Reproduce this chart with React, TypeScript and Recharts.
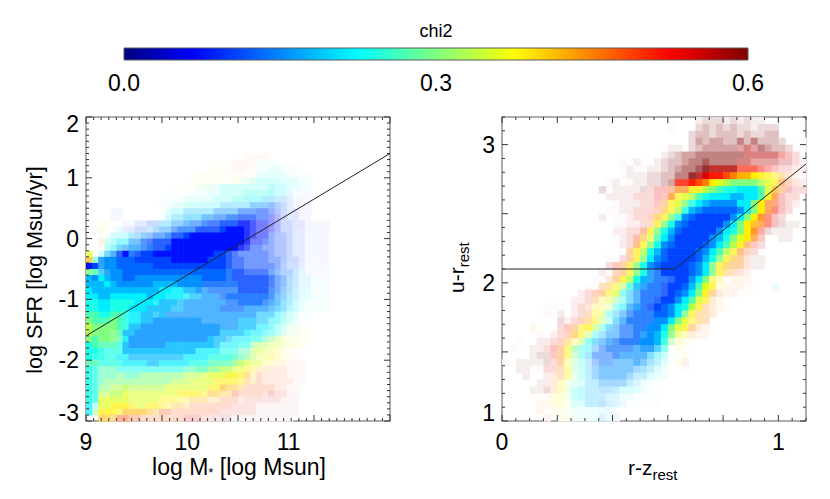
import { ScatterChart, Scatter, XAxis, YAxis, ReferenceArea } from "recharts";

// chi2 level per cell (base 36, see chiLevels), row 0 is the top of the panel
const massChiRows = [
  "", "", "", "", "", "",
  ".......... .......... ......gggg",
  ".......... .......... ..ddgggg88 88",
  ".......... .......... ddddgggd88 88888",
  ".......... ........dd dddddgcc88 8888888",
  ".......... .......ddd ddcccaa988 8888777",
  ".......... .....cccaa 9988888888 8777766",
  ".......... ....a..888 8888888888 7776655",
  ".......... ...8888888 8888887776 6554333",
  ".......... ..88888877 7766666555 4433333",
  "....33.... ...7776666 6555544433 3333222",
  "....33.... ...7666665 5444433333 2233222",
  ".dcc..3333 3366555444 3333322222 2233222222",
  ".8dc873333 5555444433 3332222222 2233332222",
  "..d8877655 4444333222 2222222222 3333333333",
  "..f8877554 3333222222 2222222223 3333333333",
  "..f8765554 4333222222 2222222333 3333333333",
  "c.76532433 3222222222 2333333333 3333333333",
  "e955544433 3333222222 3333333333 3333333333",
  "2355544444 4333333333 3333333333 3344444444",
  "a965554444 4444444444 4444333333 4444555555",
  "6576554455 5555555554 4444333333 3445566666",
  "6667655555 5666655554 4444433333 3445566666",
  "7666666666 6677776655 4444433333 4455667777",
  "7766777777 6777777665 5544444444 4556677777",
  "8877888877 7766665555 5554444444 5566778888",
  "8877888777 6666665555 5544445555 5667788888",
  "9988998776 6665555555 5555555566 6778899999",
  "a999a98776 6555555555 5555566666 7788999999",
  "baaaa98665 5555555555 5555566677 7889abbbbb",
  "baaaa96655 5555555555 5566667777 889abccccc",
  "a9aaa97555 5555555555 6666777889 abcccccccc",
  "8999986555 5556666666 6677788abb cccddddddd",
  "8888886666 6666666677 7788899bcc cdddeeeeee",
  "8888877666 6666667777 888899abcc dddefggggg",
  "9988887777 6677777888 9999abcccd deegggggg",
  "8899988888 8888889999 aabbccddee gggggggg",
  "88999a999a aaaaaabbbc cccdddeegg gggggggg",
  "889aaaaaaa aaaabbbccc cdddddeegg gggggggg",
  "88aabbbbbb bbbccccccc ddeeeegggg gggggggg",
  "88bbbbcccc cccccddddd eeeegggggi iiiiiiii",
  "88cccccccc ccdddddeee eeggggiiii iiiiiiii",
  "78ccddddcc ddddeeeggg ggggiiiiii kkkkkkkk",
  "7addddeeee eegggggggg ggiiiiiikk kkkkkkkk",
  "..eeeggggg ggggggiiii iikkkkkkkk kkkkkkkk",
];

// weight level per cell (0 = white, 9 = full colour)
const massWeightRows = [
  "", "", "", "", "", "",
  ".......... .......... ......1111",
  ".......... .......... ..11111111 11",
  ".......... .......... 1111111111 22111",
  ".......... ........11 1111111122 2221111",
  ".......... .......111 1111222333 3322211",
  ".......... .....11122 2233333333 4332211",
  ".......... ....1..111 2233334444 4332111",
  ".......... ...1112222 2333444444 4332111",
  ".......... ..11223333 3344444555 5432111",
  "....11.... ...2334444 4555566666 5432211",
  "....11.... ...3445556 6667777766 5432211",
  ".111..1122 3344556667 7788888766 5433221111",
  ".121122233 3455677788 8899998766 5433221111",
  "..11333445 5667889999 9999998766 5443221111",
  "..23455667 7888999999 9999998666 5443221111",
  "..14566777 8889999999 9999987665 5443221111",
  "7.36789889 9999999999 9998766666 5443221111",
  "7689999999 9999999999 9998776666 5543321111",
  "9989999999 9999999999 9998776666 6543321111",
  "8878999999 9999999999 9998887777 6544321111",
  "9999999999 9999999999 9998888888 7654322111",
  "9999999999 9999999998 8888888888 7654322111",
  "9999999999 9999888887 7777788888 7654322111",
  "9999999999 9998887777 7778888888 7654322111",
  "9999999999 9888877777 7777788887 7654321111",
  "9999999999 8888777777 7777777777 6654321111",
  "9999998888 8787777777 7777777766 6543211",
  "9999998888 8888888887 7777777766 5543211",
  "9999998888 8888888888 8877777766 5432211",
  "9999888888 8888888888 8877777665 5432211",
  "9999878888 8888888888 8776666665 5432211",
  "9988878888 8888888888 8766666555 4432211",
  "9987778888 8888888877 7766655554 4321",
  "9887777777 7777777777 7777766544 43211",
  "8877777777 7777777777 7777776553 322111",
  "8766666666 6666666677 7777665433 222111",
  "8766666666 6666666666 7777765332 222111",
  "8766666666 6666666666 6666654332 222211",
  "8766667666 6666666666 6665543333 32211",
  "8766777666 6666666665 5544433332 32211",
  "8777777666 6655544444 3333322222 22111",
  "7477777666 6654443333 3333222211 11111",
  "7577766666 5444333333 3322222211 11111",
  ".166555443 3333333332 2222111111 1111",
];

const colorChiRows = [
  ".......... .......... ........kk kkkkkkkk",
  ".......... .......... ....k...kk kkkkkkkkkk",
  ".......... .......... .......kkk kkkkkkkkkk",
  ".......... .......... .......kkk kkkkkkkkkk k..k",
  ".......... .......... ....kk.kkk kkkkjjjkkk kk.k",
  ".......... .......... ...kkkkkkk kkkkkjjjjj iii",
  ".......... .......k.k ..kkkkkkkk kkkkjjjjjj jjii",
  ".......... .......kkk kkkkkkkkkk jjjjhhhhhh iiii",
  ".......... .......kkk kkkkkkkkji hhgfeedddd eggg",
  ".......... .....kk.kk kkkkkhhhgf dcbaaaabcd fggi",
  ".......... ....k.kkkk kiiigffddb a988777 9ce fiii",
  ".......... .....kkkki iiihfdcb98 7776677 9df iii",
  ".......... ......kkkk iihfdca876 555577adfg iii",
  ".......... .....kkkki iigedb8654 44445 7adfh ii",
  ".......... ....k.kkii igeda85433 33357adfhi i",
  ".......... ......kkii ifda854333 3357adefhi kkk",
  ".......... ......iiii gda8643333 3578adfhkk kk",
  ".......... ......kkig ec97533333 568acdfh.. kk",
  ".......... .......kif da85433334 579bdfhi",
  ".......... .......kfd b864333345 79bdfgi",
  ".......... .....kkifd a754333346 8adefgkk",
  ".......... .....ihfda 8543333457 adeffgkk",
  ".......... ....kkgfda 8543333457 adefgg",
  ".......... ...kkgfdb8 6544333 57a dd.fff",
  ".......... ..kkfedb86 5443334 69c ddfffff..6",
  ".......... .iigfdc865 4443345 7ad ffff",
  ".......... iiifdca865 4433357 9cd ff",
  "......kkk. iigddb8755 4334578bdf fff",
  "......kkk. iifdc86544 44445 7adef f",
  "........ki igedb86544 4455 7acdef",
  "....f...ih fddb865444 4557acdfff",
  ".....k.iig edb8655444 5568acdfff",
  "..k..kkige db86554444 5568add",
  ".k..kkiifd a875444445 5568.dd",
  "....kkkhfd a864444555 5678a.d",
  "k.kkkkkhfd a864445555 5668.dg",
  "..kkkkiifd a865555555 6678..k",
  "...k..kffd a865555556 6778",
  ".....kkfdb 9866555566 77",
  "....kkkfdb 8766556778 888",
  ".....ffddb 8766666777 9",
  ".....ffddb 8766556677 ..6",
  ".....ffddb 9887666",
  "......g.dd a888666",
];

const colorWeightRows = [
  ".......... .......... ........23 33232322",
  ".......... .......... ....1...34 3434332333",
  ".......... .......... .......344 3444343344",
  ".......... .......... .......354 5544646444 3..1",
  ".......... .......... ....22.345 5555565654 43.1",
  ".......... .......... ...2345566 6666666666 5432",
  ".......... .......1.2 ..23445667 6666665555 4432",
  ".......... .......121 1223456678 8888777654 3322",
  ".......... .......122 2334466889 9999999876 5321",
  ".......... .....12.12 2334588999 9999999887 6432",
  ".......... ....3.2222 3344577889 9999999987 5433",
  ".......... .....22223 3344778899 9999999987 433",
  ".......... ......1222 3345788899 9999999976 432",
  ".......... .....11223 3346788999 9999999976 43",
  ".......... ....2.1123 3467889999 9999999864 3",
  ".......... ......1122 3478999999 9999998764 322",
  ".......... ......2233 5789999999 9999998532 22",
  ".......... ......1235 6789999999 99999974.. 22",
  ".......... .......236 7899999999 99998643",
  ".......... .......157 8999999999 9987643",
  ".......... .....11357 8999999999 98765322",
  ".......... .....34578 9999999999 87655322",
  ".......... ....214578 9889999999 875432",
  ".......... ...1135789 9888899999 64.222",
  ".......... ..11456678 8888999999 7322211..2",
  ".......... .234567667 8888999998 5322",
  ".......... 2234455567 8889999987 32",
  "......111. 2334445678 8899999974 321",
  "......1.2. 2345555678 8899998754 3",
  "........32 3456546788 8899998654",
  "....2...34 5676566778 8999987532",
  ".....1.234 6655566778 8999864322",
  "..1..22345 4566677888 9998532",
  ".1..223456 6555677777 8876.21",
  "....233456 5556667777 76541.2",
  "1.22223354 4445666667 6543.22",
  "..22113345 4445666665 5432..1",
  "...2..2345 3445666654 4322",
  ".....22343 3344555543 21",
  "....223343 4444444333 211",
  ".....11333 4444433221 1",
  ".....22332 3344433211 ..1",
  ".....21122 2222221",
  "......2.22 2222322",
];

// chi2 value of each level character 0..k
const chiLevels = [
  0, 0.03, 0.085, 0.115, 0.135, 0.16, 0.185, 0.215, 0.24, 0.27, 0.3,
  0.33, 0.355, 0.385, 0.42, 0.45, 0.48, 0.51, 0.54, 0.57, 0.6,
];

const massLine = [{ x: 9, y: -1.6 }, { x: 12, y: 1.4 }];
const colorLine = [{ x: 0, y: 2.1 }, { x: 0.625, y: 2.1 }, { x: 1.1, y: 2.86 }];

const massXLabels = [9, 10, 11];
const massYLabels = [-3, -2, -1, 0, 1, 2];
const colorXLabels = [0, 1];
const colorYLabels = [1, 2, 3];
const barLabels = ["0.0", "0.3", "0.6"];
const barTicks = [0, 0.3, 0.6];

const FONT = '"Liberation Sans", Arial, sans-serif';
const FRAME = "#5a5a5a";

function range(start: number, stop: number, step: number) {
  const out: number[] = [];
  const n = Math.floor((stop - start) / step + 1e-6);
  for (let i = 0; i <= n; i++) out.push(+(start + i * step).toFixed(4));
  return out;
}

function jet(t: number) {
  const c = (v: number) => Math.round(255 * Math.max(0, Math.min(1, v)));
  return [c(1.5 - Math.abs(4 * t - 3)), c(1.5 - Math.abs(4 * t - 2)), c(1.5 - Math.abs(4 * t - 1))];
}

function cellFill(chi: number, weight: number, power: number) {
  const rgb = jet(chi / 0.6);
  const w = Math.pow(weight / 9, power);
  const m = rgb.map((v) => Math.round(255 + (v - 255) * w));
  return `rgb(${m[0]},${m[1]},${m[2]})`;
}

interface Cell {
  x: number;
  y: number;
  fill: string;
}

function buildCells(
  chiRows: string[],
  weightRows: string[],
  x0: number,
  dx: number,
  y1: number,
  dy: number,
  power: number
): Cell[] {
  const cells: Cell[] = [];
  chiRows.forEach((row, j) => {
    const chis = row.replace(/ /g, "");
    const weights = (weightRows[j] || "").replace(/ /g, "");
    for (let i = 0; i < chis.length; i++) {
      if (chis[i] === "." || !weights[i] || weights[i] === ".") continue;
      cells.push({
        x: x0 + (i + 0.5) * dx,
        y: y1 - (j + 0.5) * dy,
        fill: cellFill(chiLevels[parseInt(chis[i], 36)], Number(weights[i]), power),
      });
    }
  });
  return cells;
}

const massCells = buildCells(massChiRows, massWeightRows, 9, 0.06, 2, 0.1, 1.5);
const colorCells = buildCells(colorChiRows, colorWeightRows, 0, 0.025, 3.2, 0.05, 1.75);

function cellShape(w: number, h: number) {
  return (p: any) => (
    <rect x={p.cx - w / 2} y={p.cy - h / 2} width={w + 0.6} height={h + 0.6} fill={p.payload.fill} />
  );
}

const noDot = () => <g />;

function near(list: number[], v: number) {
  return list.some((m) => Math.abs(m - v) < 1e-6);
}

function XTick(top: number, bottom: number, major: number[], minor: number[], labels: number[]) {
  return (p: any) => {
    const v = p.payload.value;
    const len = near(major, v) ? 6 : near(minor, v) ? 3 : 0;
    return (
      <g>
        {len > 0 && <line x1={p.x} x2={p.x} y1={bottom} y2={bottom - len} stroke="#333" />}
        {len > 0 && <line x1={p.x} x2={p.x} y1={top} y2={top + len} stroke="#333" />}
        {near(labels, v) && (
          <text x={p.x} y={bottom + 29} textAnchor="middle" fontSize={23} fontFamily={FONT} fill="#000">
            {v}
          </text>
        )}
      </g>
    );
  };
}

function YTick(
  left: number,
  right: number,
  textRight: number,
  major: number[],
  minor: number[],
  labels: number[],
  shift: Record<string, number>
) {
  return (p: any) => {
    const v = p.payload.value;
    const len = near(major, v) ? 6 : near(minor, v) ? 3 : 0;
    return (
      <g>
        {len > 0 && <line x1={left} x2={left + len} y1={p.y} y2={p.y} stroke="#333" />}
        {len > 0 && <line x1={right} x2={right - len} y1={p.y} y2={p.y} stroke="#333" />}
        {near(labels, v) && (
          <text x={textRight} y={p.y + 8 + (shift[v] || 0)} textAnchor="end" fontSize={23} fontFamily={FONT} fill="#000">
            {v}
          </text>
        )}
      </g>
    );
  };
}

const massXMajor = range(9, 12, 0.75);
const massXMinor = range(9, 12, 0.075);
const massYMajor = range(-3, 2, 1);
const massYMinor = range(-3, 2, 0.1);
const colorXMajor = range(0, 1.1, 0.2);
const colorXMinor = range(0, 1.1, 0.05);
const colorYMajor = range(1, 3, 0.5);
const colorYMinor = range(1, 3.2, 0.1);

const sorted = (...lists: number[][]) =>
  Array.from(new Set(lists.flat())).sort((a, b) => a - b);

function MassPanel() {
  return (
    <ScatterChart
      width={415}
      height={499}
      margin={{ left: 36, top: 117, right: 25, bottom: 38 }}
      style={{ position: "absolute", left: 0, top: 0 }}
    >
      <Scatter data={massCells} shape={cellShape(6.08, 6.08)} isAnimationActive={false} />
      <Scatter data={massLine} line={{ stroke: "#222", strokeWidth: 1 }} shape={noDot} isAnimationActive={false} />
      <XAxis
        type="number"
        dataKey="x"
        domain={[9, 12]}
        ticks={sorted(massXMinor, massXLabels)}
        interval={0}
        height={40}
        tickSize={0}
        tickLine={false}
        axisLine={false}
        tick={XTick(117, 421, massXMajor, massXMinor, massXLabels)}
      />
      <YAxis
        type="number"
        dataKey="y"
        domain={[-3, 2]}
        ticks={sorted(massYMinor, massYLabels)}
        interval={0}
        width={50}
        tickSize={0}
        tickLine={false}
        axisLine={false}
        tick={YTick(86, 390, 79, massYMajor, massYMinor, massYLabels, { "2": 7, "-3": -8 })}
      />
      <rect x={86} y={117} width={304} height={304} fill="none" stroke={FRAME} />
      <text x={239} y={475} textAnchor="middle" fontSize={23} fontFamily={FONT} fill="#000">
        log M<tspan fontSize={13} dy={2}>*</tspan>
        <tspan dy={-2}> [log Msun]</tspan>
      </text>
      <text
        x={42}
        y={270}
        textAnchor="middle"
        transform="rotate(-90 42 270)"
        fontSize={21.6}
        fontFamily={FONT}
        fill="#000"
      >
        log SFR [log Msun/yr]
      </text>
    </ScatterChart>
  );
}

function ColorPanel() {
  return (
    <ScatterChart
      width={415}
      height={499}
      margin={{ left: 37, top: 117, right: 24, bottom: 38 }}
      style={{ position: "absolute", left: 415, top: 0 }}
    >
      <Scatter data={colorCells} shape={cellShape(6.9, 6.9)} isAnimationActive={false} />
      <Scatter data={colorLine} line={{ stroke: "#222", strokeWidth: 1 }} shape={noDot} isAnimationActive={false} />
      <XAxis
        type="number"
        dataKey="x"
        domain={[0, 1.1]}
        ticks={colorXMinor}
        interval={0}
        height={40}
        tickSize={0}
        tickLine={false}
        axisLine={false}
        tick={XTick(117, 421, colorXMajor, colorXMinor, colorXLabels)}
      />
      <YAxis
        type="number"
        dataKey="y"
        domain={[1, 3.2]}
        ticks={colorYMinor}
        interval={0}
        width={50}
        tickSize={0}
        tickLine={false}
        axisLine={false}
        tick={YTick(87, 391, 80, colorYMajor, colorYMinor, colorYLabels, { "1": -8 })}
      />
      <rect x={87} y={117} width={304} height={304} fill="none" stroke={FRAME} />
      <text x={213} y={475} fontSize={21} fontFamily={FONT} fill="#000">
        r-z<tspan fontSize={15} dy={5}>rest</tspan>
      </text>
      <text x={49} y={293} transform="rotate(-90 49 293)" fontSize={21} fontFamily={FONT} fill="#000">
        u-r<tspan fontSize={15} dy={5}>rest</tspan>
      </text>
    </ScatterChart>
  );
}

function ColorBar() {
  return (
    <ScatterChart
      width={830}
      height={100}
      margin={{ left: 124, top: 48, right: 82, bottom: 0 }}
      style={{ position: "absolute", left: 0, top: 0 }}
    >
      <defs>
        <linearGradient id="jetBar" x1="0" x2="1" y1="0" y2="0">
          <stop offset="0" stopColor="#00007f" />
          <stop offset="0.11" stopColor="#0000ff" />
          <stop offset="0.375" stopColor="#00ffff" />
          <stop offset="0.625" stopColor="#ffff00" />
          <stop offset="0.875" stopColor="#ff0000" />
          <stop offset="1" stopColor="#7f0000" />
        </linearGradient>
      </defs>
      <Scatter data={barTicks.map((x) => ({ x, y: 0 }))} shape={noDot} isAnimationActive={false} />
      <ReferenceArea x1={0} x2={0.6} y1={0} y2={1} fill="url(#jetBar)" fillOpacity={1} stroke={FRAME} ifOverflow="visible" />
      <XAxis
        type="number"
        dataKey="x"
        domain={[0, 0.6]}
        ticks={barTicks}
        interval={0}
        height={40}
        tickSize={0}
        tickLine={false}
        axisLine={false}
        tick={(p: any) => (
          <text x={p.x} y={91} textAnchor="middle" fontSize={23} fontFamily={FONT} fill="#000">
            {barLabels[p.index]}
          </text>
        )}
      />
      <YAxis type="number" dataKey="y" domain={[0, 1]} hide />
      <line x1={436} x2={436} y1={60} y2={57} stroke="#333" />
      <text x={436} y={37} textAnchor="middle" fontSize={18} fontFamily={FONT} fill="#000">
        chi2
      </text>
    </ScatterChart>
  );
}

export default function App() {
  return (
    <div style={{ position: "fixed", left: 0, top: 0, width: 830, height: 499, background: "#fff", overflow: "hidden" }}>
      <style>{`.recharts-scatter { filter: blur(0.6px); }`}</style>
      <ColorBar />
      <MassPanel />
      <ColorPanel />
    </div>
  );
}
